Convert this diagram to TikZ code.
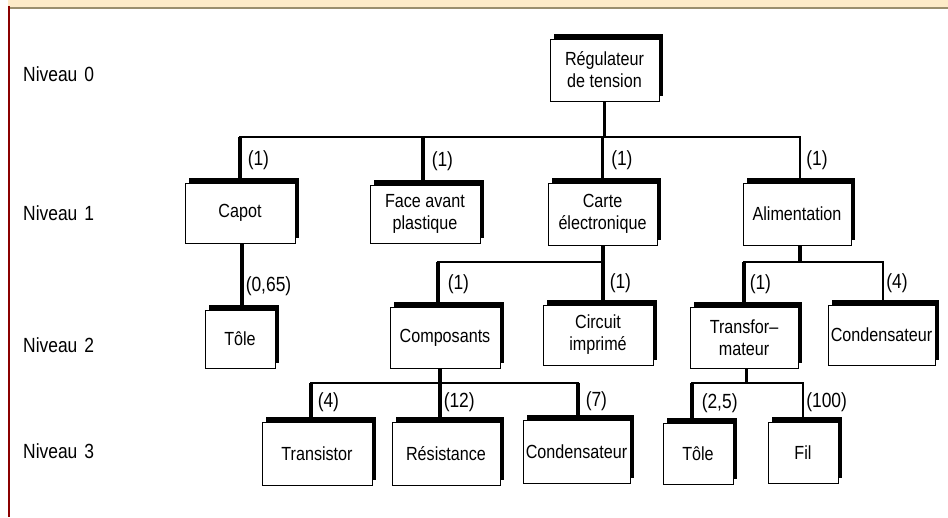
\documentclass[tikz,border=0pt]{standalone}
\usepackage{fontspec}
\setmainfont{Liberation Sans}[FakeStretch=0.85]
\usetikzlibrary{shadows}
\definecolor{bandfill}{HTML}{FDEBC8}
\definecolor{bandline}{HTML}{9A8F6E}
\definecolor{marginred}{HTML}{8B0000}
\newcommand{\treefont}{\fontsize{19}{22}\selectfont}
\newcommand{\tagfont}{\fontsize{20.5}{22}\selectfont}

\begin{document}
\begin{tikzpicture}[x=1pt,y=-1pt,
  part/.style={draw=black, line width=0.7pt, fill=white, align=center,
    inner sep=0pt, font=\treefont, minimum width=110pt, minimum height=60pt,
    drop shadow={shadow xshift=4pt, shadow yshift=5pt, opacity=1, fill=black}},
  narrow/.style={minimum width=70pt},
  trunk/.style={line width=3.5pt},
  slim/.style={line width=2.6pt},
  bus/.style={line width=1.6pt, line cap=rect},
  qty/.style={anchor=west, inner sep=0pt, font=\tagfont},
  levelname/.style={anchor=west, inner sep=0pt, font=\tagfont}]
\useasboundingbox (0,0) rectangle (948,517);

% header band and left margin rule
\fill[bandfill] (8,0) rectangle (948,7);
\fill[bandline] (8,7) rectangle (948,9);
\fill[marginred] (7.5,6) rectangle (10,517);

% level names
\node[levelname] (lv0) at (23,74)  {Niveau\hskip 7pt 0};
\node[levelname] (lv1) at (23,213) {Niveau\hskip 7pt 1};
\node[levelname] (lv2) at (23,345) {Niveau\hskip 7pt 2};
\node[levelname] (lv3) at (23,451) {Niveau\hskip 7pt 3};

% parts
\node[part, minimum width=109pt, minimum height=62pt] (root) at (604.5,70) {Régulateur\\de tension};

\node[part] (capot) at (240,213) {Capot};
\node[part, minimum height=58pt] (face) at (425,214) {Face avant\\plastique};
\node[part, minimum width=109pt, minimum height=62pt] (carte) at (602.5,214) {Carte\\électronique};
\node[part, minimum width=108pt, minimum height=62pt] (alim) at (797,214) {Alimentation};

\node[part, narrow, minimum height=58pt] (tole1) at (240,339) {Tôle};
\node[part, minimum height=61pt] (comp) at (445,337.5) {Composants};
\node[part] (circ) at (598,335) {Circuit\\imprimé};
\node[part, minimum width=108pt, minimum height=61pt] (trans) at (744,337.5) {Transfor–\\mateur};
\node[part, minimum width=107pt] (cond1) at (881.5,335) {Condensateur};

\node[part, minimum height=63pt] (trst) at (317,453.5) {Transistor};
\node[part, minimum width=108pt, minimum height=63pt] (res) at (446,453.5) {Résistance};
\node[part, minimum width=107pt, minimum height=63pt] (cond2) at (576.5,451.5) {Condensateur};
\node[part, narrow, minimum height=61pt] (tole2) at (698,453.5) {Tôle};
\node[part, narrow, minimum height=61pt] (fil) at (803,452.5) {Fil};

% connection points that sit off the box centres
\coordinate (face-in)   at ([xshift=-2pt]face.north);
\coordinate (alim-in)   at ([xshift=3pt]alim.north);
\coordinate (alim-out)  at ([xshift=3pt]alim.south);
\coordinate (tole1-in)  at ([xshift=2pt]tole1.north);
\coordinate (capot-out) at ([xshift=2pt]capot.south);
\coordinate (comp-in)   at ([xshift=-7pt]comp.north);
\coordinate (comp-out)  at ([xshift=-5pt]comp.south);
\coordinate (carte-out) at ([xshift=0.5pt]carte.south);
\coordinate (circ-in)   at ([xshift=5pt]circ.north);
\coordinate (trans-out) at ([xshift=2.5pt]trans.south);
\coordinate (cond1-in)  at ([xshift=1.5pt]cond1.north);
\coordinate (trst-in)   at ([xshift=-6pt]trst.north);
\coordinate (res-in)    at ([xshift=-6pt]res.north);
\coordinate (cond2-in)  at ([xshift=1.5pt]cond2.north);
\coordinate (tole2-in)  at ([xshift=-6pt]tole2.north);

% bus heights
\coordinate (j0) at (604,137);
\coordinate (j1) at (600,262);
\coordinate (j2) at (800,262);
\coordinate (j3) at (440,383);
\coordinate (j4) at (746,383);

% level 0 -> level 1
\draw[trunk] (root.south) -- (root.south |- j0);
\draw[bus] (capot.north |- j0) -- (alim-in |- j0);
\draw[trunk] (capot.north |- j0) -- node[qty, xshift=6pt] {(1)} (capot.north);
\draw[trunk] (face-in |- j0) -- node[qty, xshift=7pt] {(1)} (face-in);
\draw[trunk] (carte.north |- j0) -- node[qty, xshift=7pt] {(1)} (carte.north);
\draw[slim] (alim-in |- j0) -- node[qty, xshift=5pt] {(1)} (alim-in);

% capot -> tole
\draw[trunk] (capot-out) -- node[qty, pos=0.65, xshift=2pt] {(0,65)} (tole1-in);

% carte electronique -> level 2
\draw[trunk] (carte-out) -- (carte-out |- j1);
\draw[bus] (comp-in |- j1) -- (circ-in |- j1);
\draw[trunk] (comp-in |- j1) -- node[qty, xshift=8pt] {(1)} (comp-in);
\draw[trunk] (circ-in |- j1) -- node[qty, xshift=5pt] {(1)} (circ-in);

% alimentation -> level 2
\draw[trunk] (alim-out) -- (alim-out |- j2);
\draw[bus] (trans.north |- j2) -- (cond1-in |- j2);
\draw[trunk] (trans.north |- j2) -- node[qty, xshift=4pt] {(1)} (trans.north);
\draw[slim] (cond1-in |- j2) -- node[qty, xshift=2pt] {(4)} (cond1-in);

% composants -> level 3
\draw[trunk] (comp-out) -- (comp-out |- j3);
\draw[bus] (trst-in |- j3) -- (cond2-in |- j3);
\draw[trunk] (trst-in |- j3) -- node[qty, xshift=5pt] {(4)} (trst-in);
\draw[trunk] (res-in |- j3) -- node[qty, xshift=2pt] {(12)} (res-in);
\draw[trunk] (cond2-in |- j3) -- node[qty, xshift=6pt] {(7)} (cond2-in);

% transformateur -> level 3
\draw[trunk] (trans-out) -- (trans-out |- j4);
\draw[bus] (tole2-in |- j4) -- (fil.north |- j4);
\draw[trunk] (tole2-in |- j4) -- node[qty, xshift=8pt] {(2,5)} (tole2-in);
\draw[slim] (fil.north |- j4) -- node[qty, xshift=2pt] {(100)} (fil.north);
\end{tikzpicture}
\end{document}
